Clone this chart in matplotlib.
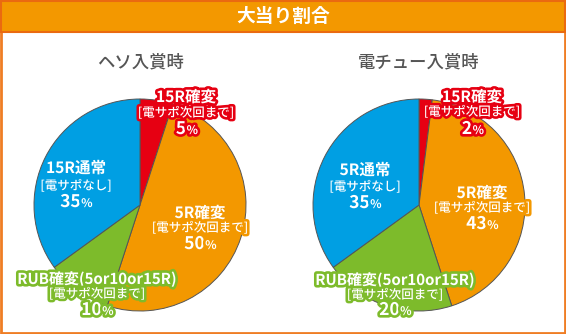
import matplotlib
matplotlib.use("Agg")
import matplotlib.pyplot as plt
import matplotlib.patheffects as pe
from matplotlib.patches import Rectangle

plt.rcParams['font.family'] = ['Noto Sans CJK JP', 'DejaVu Sans']

title = "大当り割合"
subtitles = ["ヘソ入賞時", "電チュー入賞時"]
slice_names = [["15R確変", "5R確変", "RUB確変(5or10or15R)", "15R通常"],
               ["15R確変", "5R確変", "RUB確変(5or10or15R)", "5R通常"]]
slice_notes = ["[電サポ次回まで]", "[電サポ次回まで]", "[電サポ次回まで]", "[電サポなし]"]
values_heso = [5, 50, 10, 35]
values_den = [2, 43, 20, 35]
colors = ["#e60012", "#f39800", "#7dbb2b", "#009fe3"]

W, H = 566, 334
fig = plt.figure(figsize=(W / 100, H / 100), dpi=100)
bg = fig.add_axes([0, 0, 1, 1])
bg.set_xlim(0, W)
bg.set_ylim(H, 0)
bg.axis('off')

# frame and title bar
bg.add_patch(Rectangle((1, 1), W - 2, H - 2, fill=False, ec="#ef7d24", lw=2, zorder=1))
bg.add_patch(Rectangle((1, 1), W - 2, 31, fc="#f39800", ec="#ea6a10", lw=1.5, zorder=2))
bg.text(W / 2, 16.5, title, color="white", fontsize=13.5, fontweight='bold',
        ha='center', va='center', zorder=3)

centers = [(140, 205), (419, 205)]
R = 106
all_values = [values_heso, values_den]

for (cx, cy), sub in zip(centers, subtitles):
    bg.text(cx, 62, sub, color="#555555", fontsize=12.5, fontweight='medium',
            ha='center', va='center')

for (cx, cy), vals in zip(centers, all_values):
    ax = fig.add_axes([(cx - R) / W, (H - cy - R) / H, 2 * R / W, 2 * R / H])
    ax.pie(vals, colors=colors, startangle=90, counterclock=False,
           wedgeprops=dict(edgecolor="#555555", linewidth=0.7))
    ax.set_xlim(-1, 1)
    ax.set_ylim(-1, 1)
    ax.axis('off')

# label positions (pixels): name, note, pct rows
label_pos = [
    [(186, 97, 113, 129), (200, 213, 228, 244), (97, 279, 294, 310), (76, 168, 186, 202)],
    [(472, 97, 112, 129), (482, 193, 208, 224), (395, 280, 295, 310), (365, 170, 187, 203)],
]

txt = fig.add_axes([0, 0, 1, 1])
txt.set_xlim(0, W)
txt.set_ylim(H, 0)
txt.axis('off')

for pi in range(2):
    vals = all_values[pi]
    for si in range(4):
        x, y1, y2, y3 = label_pos[pi][si]
        col = colors[si]
        eff = [pe.withStroke(linewidth=3.8, foreground=col)]
        name = slice_names[pi][si]
        if name.startswith("RUB"):
            txt.text(x, y1, name, color='white', fontsize=10.8, fontweight='bold',
                     ha='center', va='center', path_effects=eff)
        else:
            txt.text(x, y1, name, color='white', fontsize=11.2, fontweight='bold',
                     ha='center', va='center', path_effects=eff)
        txt.text(x, y2, slice_notes[si], color='white', fontsize=9, fontweight='medium',
                 ha='center', va='center', path_effects=eff)
        num = str(vals[si])
        nw = 9.2 * len(num)
        pw = 9
        left = x - (nw + pw) / 2
        txt.text(left + nw, y3, num, color='white', fontsize=12.5, fontweight='bold',
                 ha='right', va='center', path_effects=eff)
        txt.text(left + nw + 0.5, y3 + 1.5, "%", color='white', fontsize=8.5, fontweight='bold',
                 ha='left', va='center', path_effects=eff)

fig.savefig("out.png", dpi=100)
